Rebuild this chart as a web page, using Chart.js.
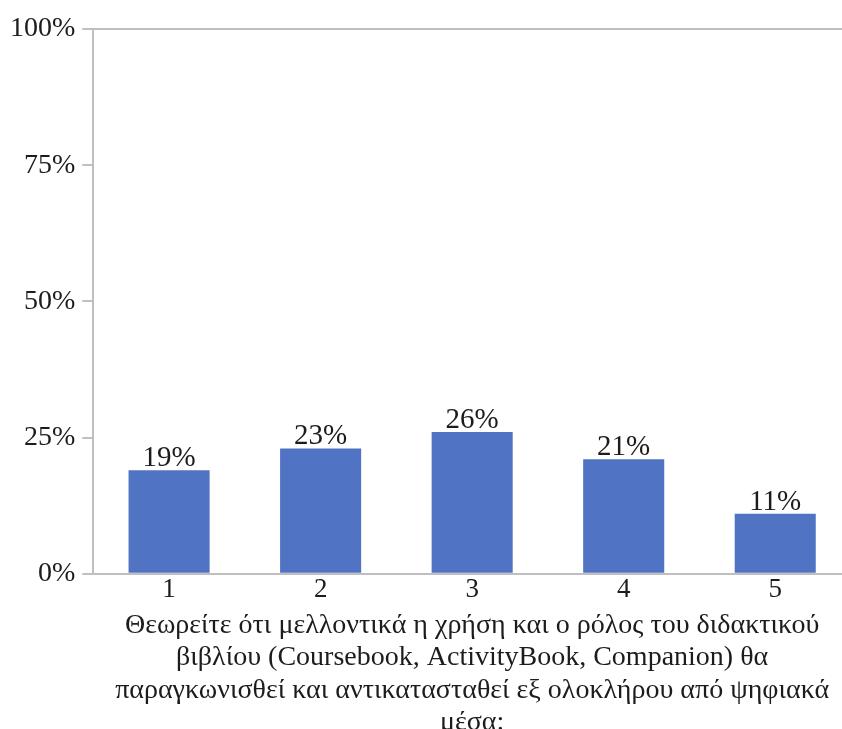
<!DOCTYPE html>
<html>
<head>
<meta charset="utf-8">
<script src="https://cdn.jsdelivr.net/npm/chart.js@4/dist/chart.umd.min.js"></script>
<style>
html,body{margin:0;padding:0;background:#fff;overflow:hidden;}
#wrap{width:868px;height:739px;position:relative;}
</style>
</head>
<body>
<div id="wrap"><canvas id="c"></canvas></div>
<script>
const categories = ['1','2','3','4','5'];
const values = [19, 23, 26, 21, 11];
const yTicks = [0, 25, 50, 75, 100];
const axisTitle = [
  'Θεωρείτε ότι μελλοντικά η χρήση και ο ρόλος του διδακτικού',
  'βιβλίου (Coursebook, ActivityBook, Companion) θα',
  'παραγκωνισθεί και αντικατασταθεί εξ ολοκλήρου από ψηφιακά',
  'μέσα:'
];

const FONT = "'Liberation Serif', 'Times New Roman', serif";
const TEXT = '#1c1c1c';
const LINE = '#bfbfbf';

const labelPlugin = {
  id: 'barLabels',
  afterDatasetsDraw(chart) {
    const ctx = chart.ctx;
    const meta = chart.getDatasetMeta(0);
    ctx.save();
    ctx.font = '29px ' + FONT;
    ctx.fillStyle = TEXT;
    ctx.textAlign = 'center';
    ctx.textBaseline = 'alphabetic';
    meta.data.forEach((bar, i) => {
      ctx.fillText(values[i] + '%', bar.x, bar.y - 4);
    });
    ctx.restore();
  }
};

new Chart(document.getElementById('c'), {
  type: 'bar',
  data: {
    labels: categories,
    datasets: [{
      data: values,
      backgroundColor: '#5073C4',
      borderWidth: 0,
      barPercentage: 0.535,
      categoryPercentage: 1
    }]
  },
  options: {
    responsive: true,
    maintainAspectRatio: false,
    animation: false,
    events: [],
    layout: { padding: { left: 3, top: 29, right: 17, bottom: 0 } },
    plugins: { legend: { display: false }, tooltip: { enabled: false } },
    scales: {
      x: {
        grid: { display: false },
        border: { display: true, color: LINE, width: 2 },
        ticks: { color: TEXT, font: { family: FONT, size: 27, lineHeight: 1.2 }, padding: -8 },
        title: {
          display: true,
          text: axisTitle,
          color: TEXT,
          font: { family: FONT, size: 28, lineHeight: 1.16 },
          padding: { top: 11, bottom: 0 }
        }
      },
      y: {
        min: 0, max: 100,
        afterBuildTicks(axis) { axis.ticks = yTicks.map(v => ({ value: v })); },
        grid: {
          drawOnChartArea: true,
          color: c => (c.tick && c.tick.value === 100) ? LINE : 'rgba(0,0,0,0)',
          lineWidth: 2,
          tickColor: LINE,
          tickLength: 11,
          tickWidth: 2
        },
        border: { display: true, color: LINE, width: 2 },
        ticks: {
          color: TEXT,
          font: { family: FONT, size: 28 },
          padding: 7,
          callback: v => v + '%'
        }
      }
    }
  },
  plugins: [labelPlugin]
});
</script>
</body>
</html>
